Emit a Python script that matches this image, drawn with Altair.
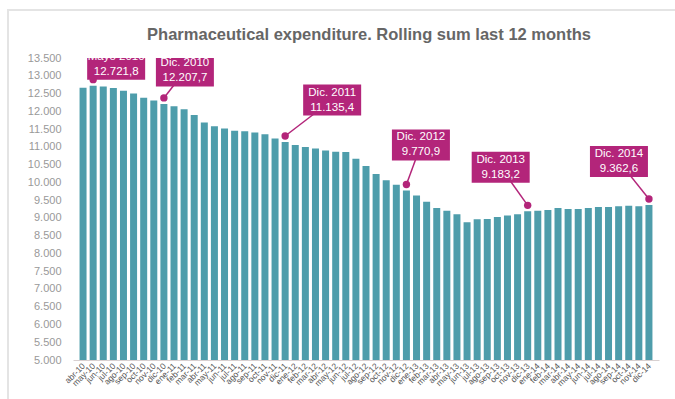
import altair as alt
import pandas as pd

months = ["abr-10", "may-10", "jun-10", "jul-10", "ago-10", "sep-10", "oct-10", "nov-10", "dic-10",
          "ene-11", "feb-11", "mar-11", "abr-11", "may-11", "jun-11", "jul-11", "ago-11", "sep-11", "oct-11", "nov-11", "dic-11",
          "ene-12", "feb-12", "mar-12", "abr-12", "may-12", "jun-12", "jul-12", "ago-12", "sep-12", "oct-12", "nov-12", "dic-12",
          "ene-13", "feb-13", "mar-13", "abr-13", "may-13", "jun-13", "jul-13", "ago-13", "sep-13", "oct-13", "nov-13", "dic-13",
          "ene-14", "feb-14", "mar-14", "abr-14", "may-14", "jun-14", "jul-14", "ago-14", "sep-14", "oct-14", "nov-14", "dic-14"]

values = [12660, 12721.8, 12700, 12654, 12578, 12502, 12378, 12302, 12207.7,
          12141, 12056, 11895, 11686, 11582, 11515, 11449, 11440, 11402, 11354, 11231, 11135.4,
          11051, 10994, 10956, 10900, 10862, 10855, 10662, 10463, 10236, 10056, 9932, 9770.9,
          9628, 9457, 9278, 9202, 9099, 8880, 8965, 8970, 9022, 9070, 9099, 9183.2,
          9200, 9220, 9277, 9248, 9250, 9277, 9305, 9305, 9325, 9344, 9325, 9362.6]

ann_months = ["may-10", "dic-10", "dic-11", "dic-12", "dic-13", "dic-14"]
ann_titles = ["Mayo 2010", "Dic. 2010", "Dic. 2011", "Dic. 2012", "Dic. 2013", "Dic. 2014"]
ann_texts = ["12.721,8", "12.207,7", "11.135,4", "9.770,9", "9.183,2", "9.362,6"]
# pixel offsets of each label box centre from the top of its bar
ann_dx = [23, 21, 47, 14.5, -27, -30]
ann_dy = [-21.5, -33, -42, -45.5, -44, -43.6]

TITLE = "Pharmaceutical expenditure. Rolling sum last 12 months"

W, H = 586, 302
PINK = "#b3257a"
TEAL = "#4e9dab"

df = pd.DataFrame({"i": list(range(len(months))), "month": months, "value": values})

label_expr = "[" + ",".join("'%s'" % m for m in months) + "][datum.value]"

xscale = alt.Scale(domain=[-0.5, len(months) - 0.5], nice=False, zero=False)
yscale = alt.Scale(domain=[5000, 13500], nice=False, zero=False)

XAX = alt.Axis(values=list(range(len(months))), labelExpr=label_expr, labelAngle=-45,
               labelAlign="right", labelBaseline="middle", labelFontSize=8.5,
               labelColor="#555", labelOverlap=False, ticks=False, domainColor="#d8d0d0",
               labelPadding=4, grid=False, labelFont="Liberation Sans", labelBound=False,
               labelFlush=False, title=None)
YAX = alt.Axis(values=list(range(5000, 13501, 500)),
               labelExpr="replace(format(datum.value, ','), ',', '.')",
               labelFontSize=11, labelColor="#999", domain=False, ticks=False,
               grid=False, labelPadding=12, labelFont="Liberation Sans",
               labelOverlap=False, labelFlush=False, title=None)

X = alt.X("i:Q", scale=xscale, axis=XAX, title=None)
Y = alt.Y("value:Q", scale=yscale, axis=YAX, title=None)

bars = alt.Chart(df).mark_bar(size=7, color=TEAL, clip=True).encode(x=X, y=Y)

layers = [bars]
for k, m in enumerate(ann_months):
    idx = months.index(m)
    a = pd.DataFrame({"i": [idx], "value": [values[idx]], "t1": [ann_titles[k]], "t2": [ann_texts[k]]})
    dx, dy = ann_dx[k], ann_dy[k]
    base = alt.Chart(a)
    rule = base.mark_rule(color=PINK, strokeWidth=1.5, yOffset=-6, x2Offset=dx, y2Offset=dy, clip=True).encode(
        x=X, x2="i:Q", y=Y, y2="value:Q")
    box = base.mark_rect(color=PINK, xOffset=dx - 29, x2Offset=dx + 29, yOffset=dy - 15.5,
                         y2Offset=dy + 15.5, clip=True).encode(
        x=X, x2="i:Q", y=Y, y2="value:Q")
    dot = base.mark_point(filled=True, color=PINK, size=55, opacity=1, yOffset=-6, clip=True).encode(
        x=X, y=Y)
    txt1 = base.mark_text(color="white", fontSize=11.5, font="Liberation Sans", dx=dx, dy=dy - 7.5,
                          clip=True).encode(x=X, y=Y, text="t1:N")
    txt2 = base.mark_text(color="white", fontSize=11.5, font="Liberation Sans", dx=dx, dy=dy + 7.5,
                          clip=True).encode(x=X, y=Y, text="t2:N")
    layers += [rule, box, dot, txt1, txt2]

tdf = pd.DataFrame({"t": [TITLE]})
title = alt.Chart(tdf).mark_text(fontSize=16.5, fontWeight="bold", color="#666", font="Liberation Sans",
                                 baseline="alphabetic", align="center").encode(
    x=alt.value(296), y=alt.value(-18), text="t:N")
layers.append(title)

frame = alt.Chart(tdf).mark_rect(fill=None, stroke="#e4e4e4", strokeWidth=2).encode(
    x=alt.value(-65), x2=alt.value(640), y=alt.value(-48), y2=alt.value(380))
layers.append(frame)

chart = alt.layer(*layers).properties(
    width=W, height=H,
    autosize=alt.AutoSizeParams(type="none"),
    padding={"left": 73, "top": 58, "right": 16, "bottom": 39},
).configure(background="white", view=alt.ViewConfig(stroke=None))

chart.save("out.html", embed_options={"renderer": "svg", "actions": False})
